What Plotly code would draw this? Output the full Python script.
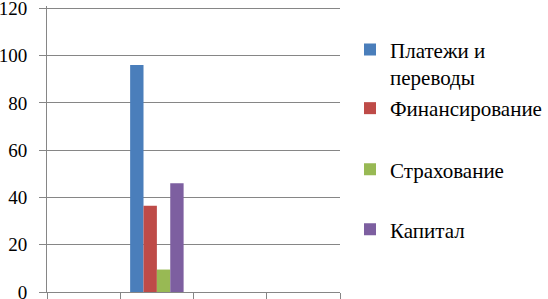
import plotly.graph_objects as go

categories = ["1", "2", "3", "4"]
series_names = ["Платежи и<br>переводы", "Финансирование", "Страхование", "Капитал"]
series_values = [
    [None, 96, None, None],
    [None, 36.5, None, None],
    [None, 9.5, None, None],
    [None, 46, None, None],
]
colors = ["#4a7ebb", "#be4b48", "#98b954", "#7d5fa0"]
y_ticks = [0, 20, 40, 60, 80, 100, 120]

SERIF = "Times New Roman"
W, H = 548, 299
legend_centers_px = [63.4, 108.5, 169.7, 229.7]
legend_ids = ["legend", "legend2", "legend3", "legend4"]

fig = go.Figure()
for i, (name, vals, c) in enumerate(zip(series_names, series_values, colors)):
    fig.add_trace(go.Bar(x=categories, y=vals, name=name, marker_color=c,
                         marker_line_width=0, legend=legend_ids[i]))

legend_layout = {}
for lid, cy in zip(legend_ids, legend_centers_px):
    legend_layout[lid] = dict(
        xref="container", yref="container",
        x=350 / W, y=1 - cy / H, xanchor="left", yanchor="middle",
        font=dict(family=SERIF, size=21, color="black"),
        bgcolor="rgba(0,0,0,0)", valign="top", itemwidth=30,
    )

fig.update_layout(
    width=W, height=H,
    margin=dict(l=47, r=208, t=6, b=7, autoexpand=False),
    paper_bgcolor="white", plot_bgcolor="white",
    barmode="group", bargap=0.27, bargroupgap=0,
    font=dict(family="DejaVu Serif", size=19, color="black"),
    showlegend=True,
    xaxis=dict(type="category", categoryorder="array", categoryarray=categories,
               tickmode="array", tickvals=categories, ticktext=["", "", "", ""],
               tickson="boundaries", ticks="outside", ticklen=6, tickcolor="#868686",
               showline=True, linecolor="#868686", linewidth=1, showgrid=False,
               range=[-0.5, 3.5], automargin=False),
    yaxis=dict(range=[0, 121], tickvals=y_ticks, ticks="outside", ticklen=7,
               tickcolor="#868686", showline=True, linecolor="#868686", linewidth=1,
               showgrid=True, gridcolor="#868686", gridwidth=1, zeroline=False,
               tickfont=dict(family=SERIF, size=19, color="black"),
               ticklabelstandoff=8, ticklabeloverflow="allow", automargin=False),
    **legend_layout,
)

fig.write_html(
    "out.html",
    post_script=(
        "document.body.style.margin='0';"
        "document.querySelectorAll('.modebar-container').forEach(function(e){e.style.display='none';});"
    ),
)
